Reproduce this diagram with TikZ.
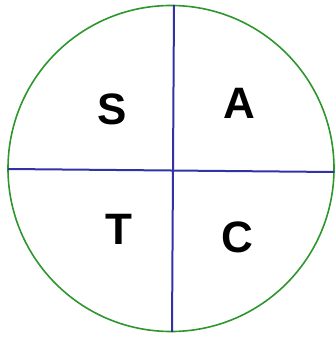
\documentclass[tikz,border=0pt]{standalone}
\usepackage{fontspec}
\setmainfont{Liberation Sans}
\usepackage{xcolor}
\usepackage{tikz}
\usetikzlibrary{positioning}

\definecolor{ringgreen}{RGB}{45,150,45}
\definecolor{crossblue}{RGB}{50,50,165}

\begin{document}
\begin{tikzpicture}[x=1pt,y=-1pt]
\useasboundingbox (0,0) rectangle (336,337);

% Outer circle
\node[draw=ringgreen,line width=1.6pt,circle,minimum size=326pt,inner sep=0pt] (ring) at (171,168.5) {};

% Cross lines
\coordinate (top) at (174,5);
\coordinate (bottom) at (172,332);
\coordinate (left) at (8,169);
\coordinate (right) at (334,172);
\draw[crossblue,line width=2pt] (top) -- (bottom);
\draw[crossblue,line width=2pt] (left) -- (right);

% Quadrant letters
\node[font=\fontsize{44}{44}\selectfont\bfseries,inner sep=0pt] (s) at (112,109) {S};
\node[font=\fontsize{44}{44}\selectfont\bfseries,inner sep=0pt] (a) at (239,103) {A};
\node[font=\fontsize{44}{44}\selectfont\bfseries,inner sep=0pt] (t) at (119,229.5) {T};
\node[font=\fontsize{44}{44}\selectfont\bfseries,inner sep=0pt] (c) at (237,237) {C};

\end{tikzpicture}
\end{document}
